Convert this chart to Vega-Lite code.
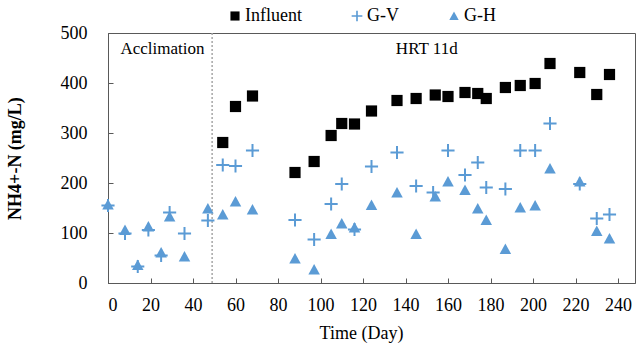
{
  "$schema": "https://vega.github.io/schema/vega-lite/v6.json",
  "width": 527,
  "height": 250,
  "autosize": {"type": "none"},
  "padding": {"left": 108, "top": 33, "right": 3, "bottom": 66},
  "background": "white",
  "config": {
    "font": "Times New Roman, Liberation Serif, serif",
    "view": {"stroke": "#595959", "strokeWidth": 1},
    "axis": {
      "grid": false,
      "domainColor": "#595959",
      "tickColor": "#595959",
      "labelFont": "Times New Roman, Liberation Serif, serif",
      "titleFont": "Times New Roman, Liberation Serif, serif",
      "labelFontSize": 18,
      "titleFontSize": 18,
      "labelColor": "#000",
      "titleColor": "#000",
      "tickSize": -5
    },
    "legend": {"labelFont": "Times New Roman, Liberation Serif, serif", "labelFontSize": 18, "labelColor": "#000"}
  },
  "datasets": {
    "pts": [
      {"day": 54, "value": 281, "series": "Influent"},
      {"day": 60, "value": 353, "series": "Influent"},
      {"day": 68, "value": 374, "series": "Influent"},
      {"day": 88, "value": 221, "series": "Influent"},
      {"day": 97, "value": 243, "series": "Influent"},
      {"day": 105, "value": 295, "series": "Influent"},
      {"day": 110, "value": 319, "series": "Influent"},
      {"day": 116, "value": 318, "series": "Influent"},
      {"day": 124, "value": 344, "series": "Influent"},
      {"day": 136, "value": 365, "series": "Influent"},
      {"day": 145, "value": 369, "series": "Influent"},
      {"day": 154, "value": 376, "series": "Influent"},
      {"day": 160, "value": 373, "series": "Influent"},
      {"day": 168, "value": 381, "series": "Influent"},
      {"day": 174, "value": 379, "series": "Influent"},
      {"day": 178, "value": 369, "series": "Influent"},
      {"day": 187, "value": 391, "series": "Influent"},
      {"day": 194, "value": 395, "series": "Influent"},
      {"day": 201, "value": 399, "series": "Influent"},
      {"day": 208, "value": 439, "series": "Influent"},
      {"day": 222, "value": 421, "series": "Influent"},
      {"day": 230, "value": 377, "series": "Influent"},
      {"day": 236, "value": 417, "series": "Influent"},
      {"day": 0, "value": 155, "series": "G-V"},
      {"day": 8, "value": 99, "series": "G-V"},
      {"day": 14, "value": 33, "series": "G-V"},
      {"day": 19, "value": 106, "series": "G-V"},
      {"day": 25, "value": 55, "series": "G-V"},
      {"day": 29, "value": 141, "series": "G-V"},
      {"day": 36, "value": 99, "series": "G-V"},
      {"day": 47, "value": 125, "series": "G-V"},
      {"day": 54, "value": 236, "series": "G-V"},
      {"day": 60, "value": 234, "series": "G-V"},
      {"day": 68, "value": 265, "series": "G-V"},
      {"day": 88, "value": 126, "series": "G-V"},
      {"day": 97, "value": 87, "series": "G-V"},
      {"day": 105, "value": 158, "series": "G-V"},
      {"day": 110, "value": 198, "series": "G-V"},
      {"day": 116, "value": 107, "series": "G-V"},
      {"day": 124, "value": 233, "series": "G-V"},
      {"day": 136, "value": 261, "series": "G-V"},
      {"day": 145, "value": 194, "series": "G-V"},
      {"day": 153, "value": 181, "series": "G-V"},
      {"day": 160, "value": 265, "series": "G-V"},
      {"day": 168, "value": 216, "series": "G-V"},
      {"day": 174, "value": 241, "series": "G-V"},
      {"day": 178, "value": 191, "series": "G-V"},
      {"day": 187, "value": 188, "series": "G-V"},
      {"day": 194, "value": 265, "series": "G-V"},
      {"day": 201, "value": 265, "series": "G-V"},
      {"day": 208, "value": 319, "series": "G-V"},
      {"day": 222, "value": 198, "series": "G-V"},
      {"day": 230, "value": 129, "series": "G-V"},
      {"day": 236, "value": 137, "series": "G-V"},
      {"day": 0, "value": 157, "series": "G-H"},
      {"day": 8, "value": 106, "series": "G-H"},
      {"day": 14, "value": 36, "series": "G-H"},
      {"day": 19, "value": 113, "series": "G-H"},
      {"day": 25, "value": 61, "series": "G-H"},
      {"day": 29, "value": 133, "series": "G-H"},
      {"day": 36, "value": 53, "series": "G-H"},
      {"day": 47, "value": 149, "series": "G-H"},
      {"day": 54, "value": 137, "series": "G-H"},
      {"day": 60, "value": 163, "series": "G-H"},
      {"day": 68, "value": 147, "series": "G-H"},
      {"day": 88, "value": 49, "series": "G-H"},
      {"day": 97, "value": 27, "series": "G-H"},
      {"day": 105, "value": 98, "series": "G-H"},
      {"day": 110, "value": 119, "series": "G-H"},
      {"day": 116, "value": 111, "series": "G-H"},
      {"day": 124, "value": 156, "series": "G-H"},
      {"day": 136, "value": 181, "series": "G-H"},
      {"day": 145, "value": 98, "series": "G-H"},
      {"day": 154, "value": 173, "series": "G-H"},
      {"day": 160, "value": 203, "series": "G-H"},
      {"day": 168, "value": 186, "series": "G-H"},
      {"day": 174, "value": 149, "series": "G-H"},
      {"day": 178, "value": 126, "series": "G-H"},
      {"day": 187, "value": 68, "series": "G-H"},
      {"day": 194, "value": 151, "series": "G-H"},
      {"day": 201, "value": 155, "series": "G-H"},
      {"day": 208, "value": 229, "series": "G-H"},
      {"day": 222, "value": 203, "series": "G-H"},
      {"day": 230, "value": 104, "series": "G-H"},
      {"day": 236, "value": 89, "series": "G-H"}
    ],
    "labels": [
      {"day": 25.6, "value": 468, "text": "Acclimation"},
      {"day": 150, "value": 468, "text": "HRT 11d"}
    ],
    "divider": [{"day": 49}]
  },
  "layer": [
    {
      "data": {"name": "divider"},
      "mark": {"type": "rule", "color": "#a6a6a6", "strokeDash": [2, 2], "strokeWidth": 1.5},
      "encoding": {
        "x": {"field": "day", "type": "quantitative", "scale": {"domain": [0, 248], "nice": false}}
      }
    },
    {
      "data": {"name": "labels"},
      "mark": {"type": "text", "font": "Times New Roman, Liberation Serif, serif", "fontSize": 17, "color": "#000"},
      "encoding": {
        "x": {"field": "day", "type": "quantitative"},
        "y": {"field": "value", "type": "quantitative"},
        "text": {"field": "text"}
      }
    },
    {
      "data": {"name": "pts"},
      "mark": {"type": "point", "filled": true, "opacity": 1, "size": 256},
      "encoding": {
        "x": {
          "field": "day", "type": "quantitative",
          "scale": {"domain": [0, 248], "nice": false},
          "axis": {"values": [0, 20, 40, 60, 80, 100, 120, 140, 160, 180, 200, 220, 240], "title": "Time (Day)", "titleFontWeight": "normal", "titleX": 253, "labelPadding": 18.5, "titlePadding": 10}
        },
        "y": {
          "field": "value", "type": "quantitative",
          "scale": {"domain": [0, 500], "nice": false},
          "axis": {"values": [0, 100, 200, 300, 400, 500], "title": "NH4+-N (mg/L)", "titleFontWeight": "bold", "labelPadding": 26, "titlePadding": 36}
        },
        "shape": {
          "field": "series", "type": "nominal",
          "scale": {
            "domain": ["Influent", "G-V", "G-H"],
            "range": [
              "M-0.7,-0.7H0.7V0.7H-0.7Z",
              "M-0.82,-0.125H-0.125V-0.82H0.125V-0.125H0.82V0.125H0.125V0.82H-0.125V0.125H-0.82Z",
              "M0,-0.68L0.72,0.62L-0.72,0.62Z"
            ]
          },
          "legend": {
            "title": null, "orient": "none", "direction": "horizontal",
            "legendX": 118, "legendY": -26, "symbolSize": 170, "columnPadding": 46, "labelOffset": 1
          }
        },
        "color": {
          "field": "series", "type": "nominal",
          "scale": {"domain": ["Influent", "G-V", "G-H"], "range": ["#000000", "#5b9bd5", "#5b9bd5"]},
          "legend": {
            "title": null, "orient": "none", "direction": "horizontal",
            "legendX": 118, "legendY": -26, "symbolSize": 170, "columnPadding": 46, "labelOffset": 1
          }
        }
      }
    }
  ]
}
